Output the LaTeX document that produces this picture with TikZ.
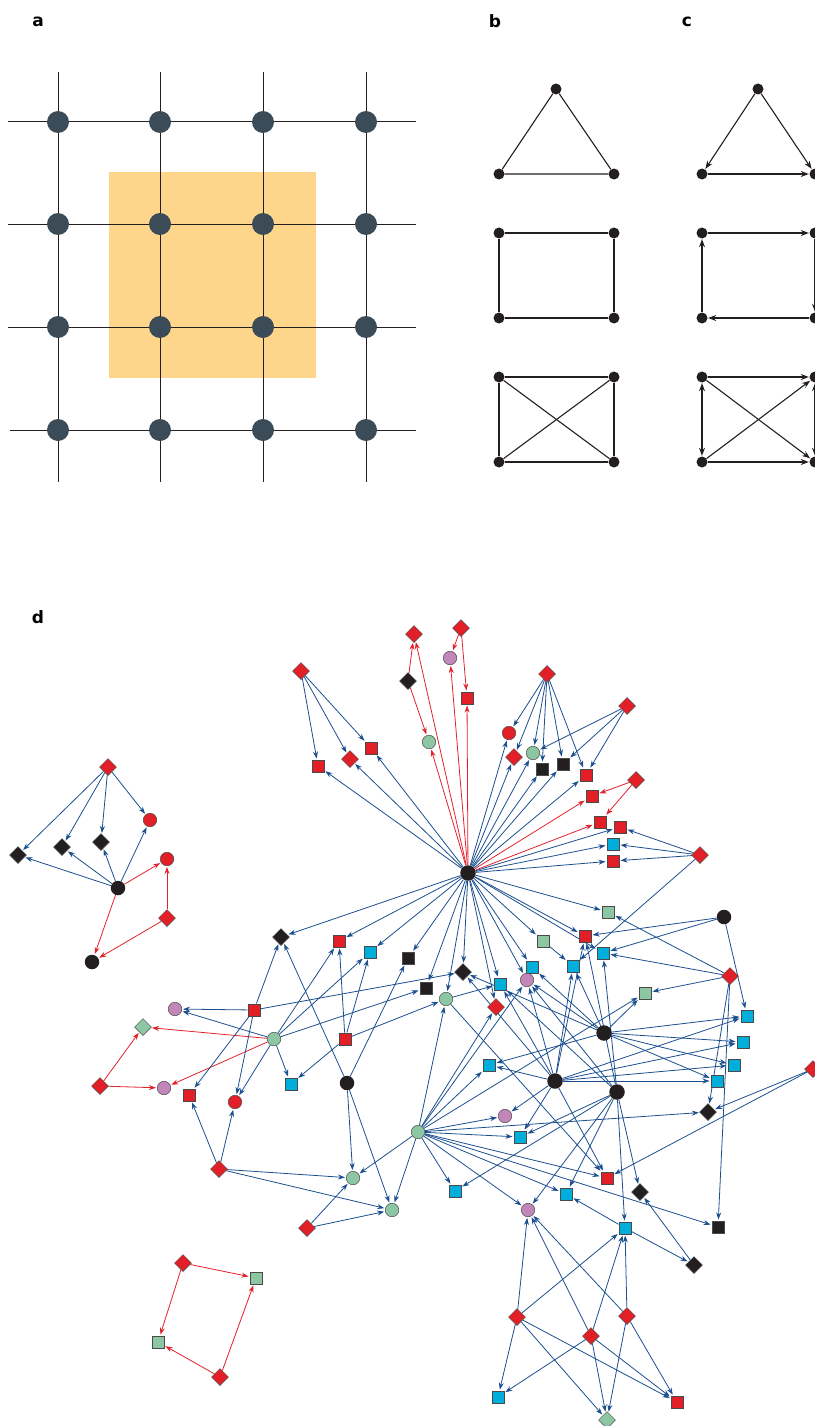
\documentclass[tikz,border=0pt]{standalone}
\usepackage{fontspec}
\setmainfont{DejaVu Sans}
\usetikzlibrary{arrows.meta,shapes.geometric,backgrounds}
\definecolor{nred}{HTML}{E21F26}
\definecolor{nblk}{HTML}{231F20}
\definecolor{ngrn}{HTML}{8CC6A2}
\definecolor{npur}{HTML}{C287B8}
\definecolor{ncyn}{HTML}{00AEDB}
\definecolor{eblue}{HTML}{1B4F8F}
\definecolor{ered}{HTML}{E3222B}
\definecolor{anode}{HTML}{3B4B58}
\definecolor{aorange}{HTML}{FDD58B}
\definecolor{nout}{HTML}{4A4A4A}
\begin{document}
\begin{tikzpicture}[x=1pt,y=-1pt,
  lbl/.style={font=\fontsize{17}{17}\selectfont\bfseries, inner sep=0pt},
  an/.style={circle, fill=anode, inner sep=0pt, minimum size=22pt},
  gl/.style={line width=1pt, draw=nblk},
  bn/.style={circle, fill=nblk, inner sep=0pt, minimum size=11pt},
  bl/.style={line width=1.1pt, draw=nblk},
  ca/.style={bl, -{Stealth[length=8pt,width=6pt]}, shorten >=0.5pt},
  cda/.style={bl, {Stealth[length=8pt,width=6pt]}-{Stealth[length=8pt,width=6pt]}, shorten >=0.5pt, shorten <=0.5pt},
  nd/.style={inner sep=0pt, draw=nout, line width=0.5pt},
  rsq/.style={nd, rectangle, fill=nred, minimum size=12.5pt},
  ksq/.style={nd, rectangle, fill=nblk, minimum size=12.5pt},
  gsq/.style={nd, rectangle, fill=ngrn, minimum size=12.5pt},
  csq/.style={nd, rectangle, fill=ncyn, minimum size=12.5pt},
  rdi/.style={nd, diamond, fill=nred, minimum size=17pt},
  kdi/.style={nd, diamond, fill=nblk, minimum size=17pt},
  gdi/.style={nd, diamond, fill=ngrn, minimum size=17pt},
  rci/.style={nd, circle, fill=nred, minimum size=13.5pt},
  gci/.style={nd, circle, fill=ngrn, minimum size=13.5pt},
  pci/.style={nd, circle, fill=npur, minimum size=13.5pt},
  kci/.style={circle, fill=nblk, inner sep=0pt, minimum size=14.5pt},
  hub/.style={kci, minimum size=15.5pt},
  be/.style={draw=eblue, line width=0.8pt, -{Stealth[length=7pt,width=5pt]}, shorten >=1pt},
  re/.style={be, draw=ered}
]
\useasboundingbox (0,0) rectangle (814,1426);

% ---------- labels
\node[lbl] (la) at (38,22) {a};
\node[lbl] (lb) at (495,21) {b};
\node[lbl] (lc) at (687,22) {c};
\node[lbl] (ld) at (38,617) {d};

% ---------- panel a
\fill[aorange] (109,172) rectangle (316,378);
\foreach \x in {58,160,263,366} \draw[gl] (\x,72) -- (\x,482);
\foreach \y in {122,224,327} \draw[gl] (8,\y) -- (416,\y);
\draw[gl] (10,430) -- (416,430);
\foreach \x [count=\i] in {58,160,263,366}
  \foreach \y [count=\j] in {122,224,327,430}
    \node[an] (a\i\j) at (\x,\y) {};

% ---------- panel b
\node[bn] (bt1) at (556,89) {};
\node[bn] (bt2) at (499,174) {};
\node[bn] (bt3) at (614,174) {};
\draw[bl] (bt1) -- (bt2) -- (bt3) -- (bt1);
\node[bn] (br1) at (499,233) {};
\node[bn] (br2) at (614,233) {};
\node[bn] (br3) at (614,318) {};
\node[bn] (br4) at (499,318) {};
\draw[bl] (br1) -- (br2) -- (br3) -- (br4) -- (br1);
\node[bn] (bk1) at (499,377) {};
\node[bn] (bk2) at (614,377) {};
\node[bn] (bk3) at (614,462) {};
\node[bn] (bk4) at (499,462) {};
\draw[bl] (bk1) -- (bk2) -- (bk3) -- (bk4) -- (bk1);
\draw[bl] (bk1) -- (bk3);
\draw[bl] (bk2) -- (bk4);

% ---------- panel c
\node[bn] (ct1) at (758,89) {};
\node[bn] (ct2) at (702,174) {};
\node[bn] (ct3) at (815,174) {};
\draw[ca] (ct1) -- (ct2);
\draw[ca] (ct1) -- (ct3);
\draw[ca] (ct2) -- (ct3);
\node[bn] (cr1) at (702,233) {};
\node[bn] (cr2) at (815,233) {};
\node[bn] (cr3) at (815,318) {};
\node[bn] (cr4) at (702,318) {};
\draw[ca] (cr1) -- (cr2);
\draw[ca] (cr2) -- (cr3);
\draw[ca] (cr3) -- (cr4);
\draw[ca] (cr4) -- (cr1);
\node[bn] (ck1) at (702,377) {};
\node[bn] (ck2) at (815,377) {};
\node[bn] (ck3) at (815,462) {};
\node[bn] (ck4) at (702,462) {};
\draw[ca] (ck1) -- (ck2);
\draw[ca] (ck4) -- (ck3);
\draw[cda] (ck1) -- (ck4);
\draw[cda] (ck2) -- (ck3);
\draw[ca] (ck1) -- (ck3);
\draw[ca] (ck4) -- (ck2);

% ---------- panel d nodes
% cluster top-left
\node[rdi] (q1) at (108,767) {};
\node[kdi] (q2) at (18,855) {};
\node[kdi] (q3) at (62,847) {};
\node[kdi] (q4) at (101,842) {};
\node[rci] (q5) at (150,820) {};
\node[rci] (q6) at (167,859) {};
\node[kci] (q7) at (118,888) {};
\node[rdi] (q8) at (167,918) {};
\node[kci] (q9) at (92,962) {};
% cluster bottom-left
\node[rdi] (w1) at (183,1263) {};
\node[gsq] (w2) at (256,1278) {};
\node[gsq] (w3) at (158,1342) {};
\node[rdi] (w4) at (220,1377) {};
% main component
\node[hub] (H) at (468,873) {};
\node[rdi] (Rd1) at (301,671) {};
\node[rsq] (Rs1) at (318,766) {};
\node[rdi] (Rd2) at (350,759) {};
\node[rsq] (Rs2) at (371,748) {};
\node[rdi] (Rd3) at (414,634) {};
\node[kdi] (Kd1) at (408,681) {};
\node[gci] (Gc1) at (429,742) {};
\node[rdi] (Rd4) at (461,628) {};
\node[pci] (Pc1) at (450,658) {};
\node[rsq] (Rs3) at (467,698) {};
\node[rdi] (Rd5) at (547,674) {};
\node[rci] (Rc3) at (509,733) {};
\node[rdi] (Rd6) at (514,757) {};
\node[gci] (Gc2) at (533,753) {};
\node[ksq] (Ks1) at (542,769) {};
\node[ksq] (Ks2) at (563,764) {};
\node[rsq] (Rs4) at (586,775) {};
\node[rdi] (Rd7) at (627,706) {};
\node[rdi] (Rd8) at (636,780) {};
\node[rsq] (Rs5) at (592,796) {};
\node[rsq] (Rs6) at (600,822) {};
\node[rsq] (Rs7) at (620,827) {};
\node[csq] (Cs1) at (613,844) {};
\node[rsq] (Rs8) at (613,861) {};
\node[rdi] (Rd9) at (700,855) {};
\node[gsq] (Gs1) at (608,912) {};
\node[rsq] (Rs9) at (585,936) {};
\node[gsq] (Gs2) at (543,941) {};
\node[csq] (Cs2) at (603,953) {};
\node[csq] (Cs3) at (573,966) {};
\node[csq] (Cs4) at (532,967) {};
\node[pci] (Pc2) at (527,980) {};
\node[csq] (Cs5) at (500,984) {};
\node[rdi] (Rd10) at (496,1007) {};
\node[kdi] (Kd2) at (463,972) {};
\node[ksq] (Ks3) at (426,988) {};
\node[gci] (Gc3) at (446,999) {};
\node[ksq] (Ks4) at (408,958) {};
\node[gsq] (Gs3) at (645,993) {};
\node[kci] (Hub5) at (724,917) {};
\node[rdi] (Rd12) at (730,976) {};
\node[hub] (Hub2) at (604,1033) {};
\node[hub] (Hub3) at (555,1081) {};
\node[hub] (Hub4) at (617,1092) {};
\node[gci] (Gc4) at (418,1132) {};
\node[csq] (Cs6) at (489,1065) {};
\node[pci] (Pc3) at (505,1116) {};
\node[csq] (Cs7) at (520,1137) {};
\node[rsq] (Rs10) at (607,1178) {};
\node[kdi] (Kd3) at (640,1192) {};
\node[csq] (Cs8) at (455,1191) {};
\node[csq] (Cs9) at (566,1194) {};
\node[csq] (Cs10) at (747,1016) {};
\node[csq] (Cs11) at (743,1042) {};
\node[csq] (Cs12) at (734,1065) {};
\node[csq] (Cs13) at (717,1081) {};
\node[kdi] (Kd4) at (708,1112) {};
\node[rdi] (Rd11) at (813,1069) {};
\node[ksq] (Ks5) at (718,1227) {};
\node[csq] (Cs14) at (625,1228) {};
\node[kdi] (Kd5) at (281,937) {};
\node[rsq] (Rs11) at (339,941) {};
\node[csq] (Cs15) at (370,952) {};
\node[pci] (Pc4) at (175,1009) {};
\node[rsq] (Rs12) at (254,1010) {};
\node[gci] (Gc5) at (274,1039) {};
\node[rsq] (Rs13) at (345,1039) {};
\node[csq] (Cs16) at (291,1084) {};
\node[kci] (Hub6) at (347,1083) {};
\node[pci] (Pc5) at (164,1088) {};
\node[rsq] (Rs14) at (189,1095) {};
\node[rci] (Rc4) at (235,1102) {};
\node[gdi] (Gd1) at (143,1027) {};
\node[rdi] (Rd13) at (100,1086) {};
\node[rdi] (Rd14) at (219,1169) {};
\node[gci] (Gc6) at (353,1178) {};
\node[gci] (Gc7) at (392,1210) {};
\node[rdi] (Rd15) at (307,1228) {};
\node[pci] (Pc6) at (528,1210) {};
\node[kdi] (Kd6) at (694,1265) {};
\node[rdi] (Rd16) at (517,1317) {};
\node[rdi] (Rd17) at (591,1336) {};
\node[rdi] (Rd18) at (627,1316) {};
\node[csq] (Cs17) at (498,1397) {};
\node[rsq] (Rs15) at (677,1402) {};
\node[gdi] (Gd2) at (607,1420) {};

% ---------- panel d edges
\begin{scope}[on background layer]
\foreach \s/\t in {q1/q2,q1/q3,q1/q4,q1/q5,q7/q2,q7/q3,q7/q4,q7/q5}
  \draw[be] (\s) -- (\t);
\foreach \s/\t in {q7/q6,q7/q9,q8/q6,q8/q9,w1/w2,w1/w3,w4/w2,w4/w3}
  \draw[re] (\s) -- (\t);
% red edges of main component
\foreach \s/\t in {Kd1/Rd3,Kd1/Gc1,H/Rd3,H/Gc1,Rd4/Pc1,Rd4/Rs3,H/Pc1,H/Rs3,
  Rd8/Rs5,Rd8/Rs6,H/Rs5,H/Rs6,Gc5/Gd1,Gc5/Pc5,Rd13/Gd1,Rd13/Pc5}
  \draw[re] (\s) -- (\t);
% blue edges
\foreach \s/\t in {Rd1/Rs1,Rd1/Rd2,Rd1/Rs2,H/Rs1,H/Rd2,H/Rs2,
  Rd5/Rc3,Rd5/Rd6,Rd5/Gc2,Rd5/Ks1,Rd5/Ks2,Rd5/Rs4,
  Rd7/Gc2,Rd7/Ks2,Rd7/Rs4,
  H/Rc3,H/Rd6,H/Gc2,H/Ks1,H/Ks2,H/Rs4,
  Rd9/Rs7,Rd9/Cs1,Rd9/Rs8,Rd9/Cs3,H/Rs7,H/Cs1,H/Rs8,
  H/Kd5,H/Rs11,H/Cs15,H/Ks4,H/Ks3,H/Gc3,H/Kd2,H/Rd10,H/Cs5,H/Pc2,H/Cs4,
  H/Gs2,H/Rs9,H/Cs2,H/Gs1,Gs2/Cs3,
  Hub5/Rs9,Hub5/Cs2,Hub5/Cs10,
  Rd12/Gs1,Rd12/Cs2,Rd12/Gs3,Rd12/Kd4,Rd12/Ks5,
  Rd11/Kd4,Rd11/Rs10,
  Hub2/Cs10,Hub2/Cs11,Hub2/Cs12,Hub2/Cs13,Hub2/Gs3,Hub2/Cs6,Hub2/Pc2,Hub2/Cs4,Hub2/Cs3,Hub2/Kd2,
  Hub3/Cs10,Hub3/Cs11,Hub3/Cs12,Hub3/Cs13,Hub3/Cs6,Hub3/Pc3,Hub3/Cs7,Hub3/Kd2,Hub3/Cs5,
  Hub3/Pc2,Hub3/Cs3,Hub3/Rs9,Hub3/Rs10,
  Hub4/Cs2,Hub4/Rs9,Hub4/Pc2,Hub4/Cs5,Hub4/Cs7,Hub4/Cs8,Hub4/Cs9,Hub4/Kd3,Hub4/Cs14,Hub4/Pc6,
  Gc4/Gc3,Gc4/Rd10,Gc4/Pc2,Gc4/Cs6,Gc4/Pc3,Gc4/Cs7,Gc4/Rs10,Gc4/Cs9,Gc4/Cs8,Gc4/Gc6,Gc4/Gc7,
  Gc4/Ks5,Gc4/Kd4,Gc4/Gs3,Gc4/Pc6,
  Gc5/Pc4,Gc5/Rs11,Gc5/Cs15,Gc5/Ks3,Gc5/Cs16,Gc5/Rc4,
  Rs12/Pc4,Rs12/Kd5,Rs12/Kd2,Rs12/Rs14,Rs12/Rc4,
  Rs13/Rs11,Rs13/Cs15,Rs13/Cs16,Rs13/Gc3,
  Hub6/Kd5,Hub6/Ks4,Hub6/Gc6,Hub6/Gc7,
  Gc3/Cs5,Gc3/Rs10,
  Rd14/Rs14,Rd14/Rc4,Rd14/Gc6,Rd14/Gc7,Rd15/Gc6,Rd15/Gc7,
  Cs14/Cs9,Cs14/Kd6,Kd6/Kd3,
  Rd16/Pc6,Rd16/Cs14,Rd16/Cs17,Rd16/Gd2,Rd16/Rs15,
  Rd17/Pc6,Rd17/Cs14,Rd17/Cs17,Rd17/Gd2,Rd17/Rs15,
  Rd18/Pc6,Rd18/Cs14,Rd18/Gd2,Rd18/Rs15}
  \draw[be] (\s) -- (\t);
\end{scope}
\end{tikzpicture}
\end{document}
